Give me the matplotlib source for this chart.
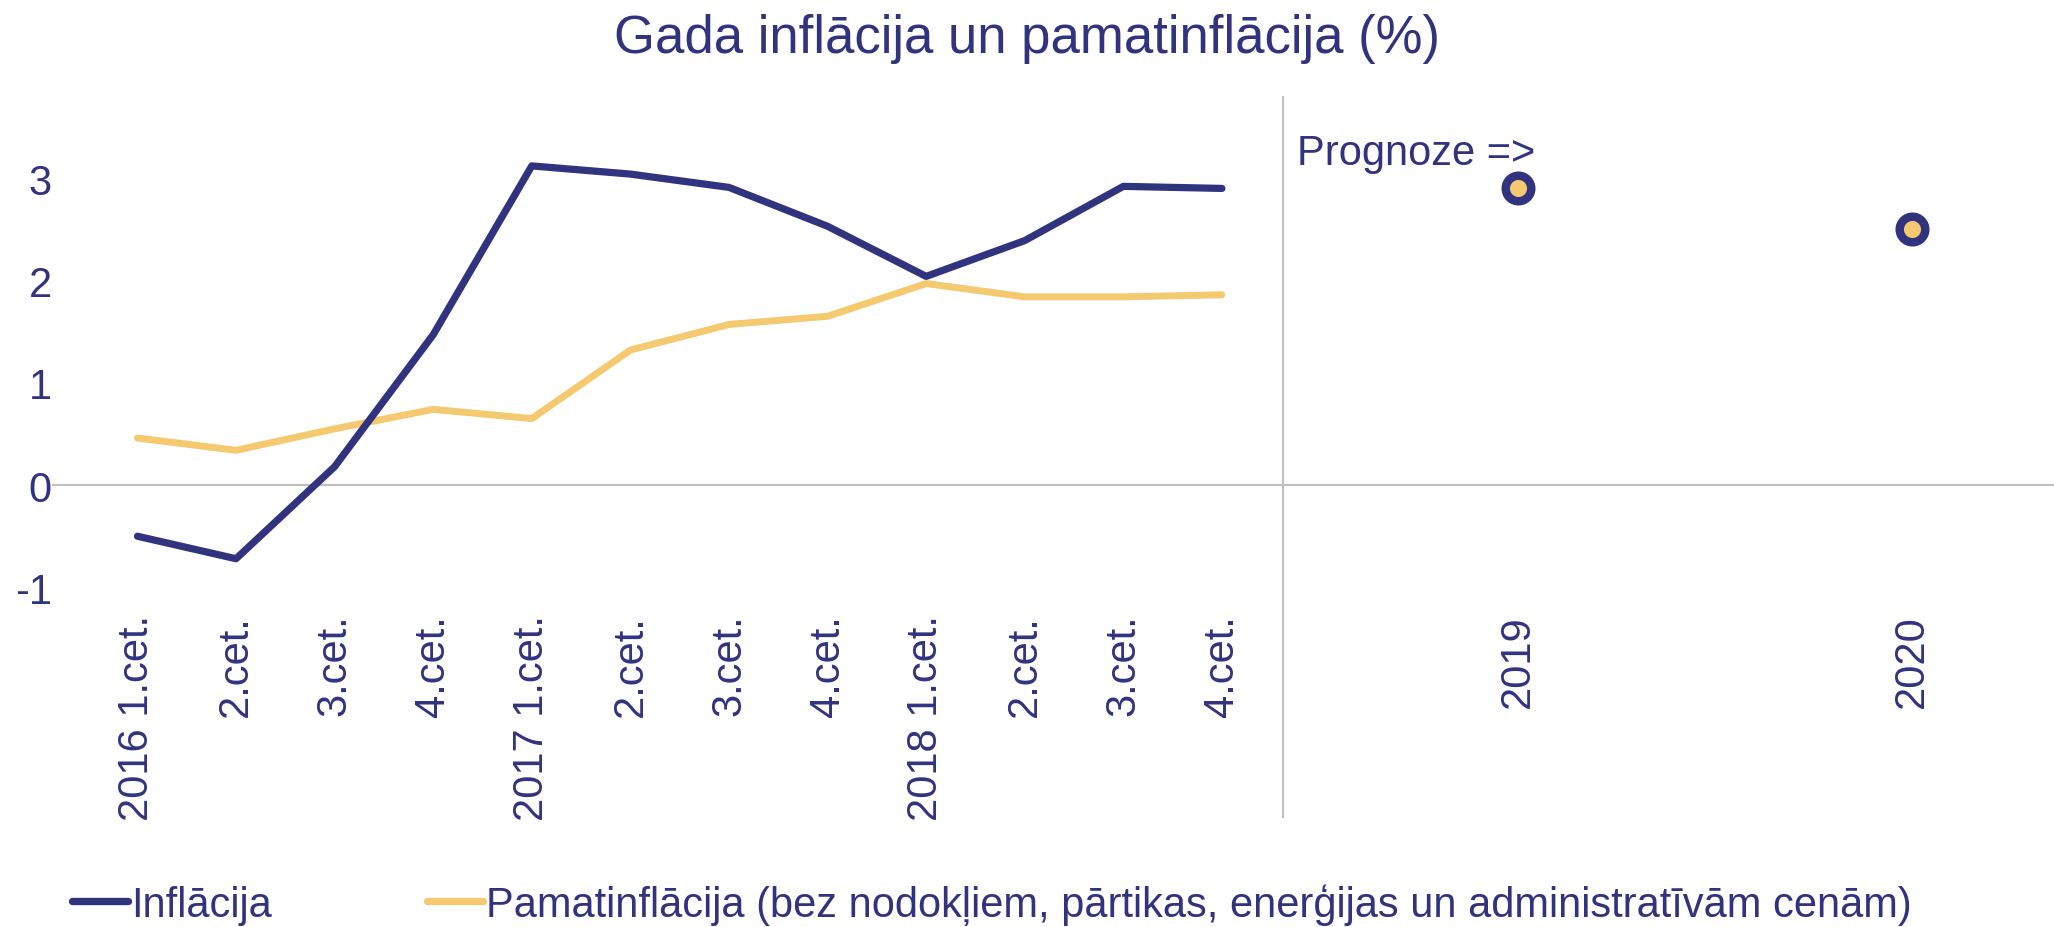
import matplotlib
matplotlib.use("Agg")
import matplotlib.pyplot as plt

plt.rcParams["font.family"] = ["Liberation Sans", "DejaVu Sans"]

NAVY = "#31337f"
GOLD = "#f5c96f"
GREY = "#bfbfbf"

# quarterly data 2016 Q1 .. 2018 Q4
quarter_labels = ["2016 1.cet.", "2.cet.", "3.cet.", "4.cet.",
                  "2017 1.cet.", "2.cet.", "3.cet.", "4.cet.",
                  "2018 1.cet.", "2.cet.", "3.cet.", "4.cet."]
inflation = [-0.50, -0.72, 0.18, 1.47, 3.12, 3.04, 2.91, 2.53, 2.04, 2.39, 2.92, 2.90]
core_inflation = [0.46, 0.34, 0.55, 0.74, 0.65, 1.32, 1.57, 1.65, 1.97, 1.84, 1.84, 1.86]

# forecast
forecast_labels = ["2019", "2020"]
forecast_values = [2.9, 2.5]
forecast_pos = [14, 18]

fig = plt.figure(figsize=(20.54, 9.28), dpi=100)
ax = fig.add_axes([0.0253, 0.348, 0.9747, 0.546])

qx = list(range(len(quarter_labels)))
ax.plot(qx, inflation, color=NAVY, lw=5.2, solid_capstyle="round",
        solid_joinstyle="round", label="Inflācija", zorder=3)
ax.plot(qx, core_inflation, color=GOLD, lw=5.0, solid_capstyle="round",
        solid_joinstyle="round",
        label="Pamatinflācija (bez nodokļiem, pārtikas, enerģijas un administratīvām cenām)",
        zorder=2)
ax.plot(forecast_pos, forecast_values, ls="none", marker="o", ms=18.4,
        mfc=GOLD, mec=NAVY, mew=6.1, zorder=4)

ax.axhline(0, color=GREY, lw=1.5, zorder=1)
# separator between history and forecast, runs down into label area
ax.axvline(11.62, ymin=-0.42, ymax=1.0, color=GREY, lw=1.5, clip_on=False, zorder=1)

ax.text(11.76, 3.14, "Prognoze =>", fontsize=30, color=NAVY, va="baseline", ha="left")

ax.set_xlim(-0.867, 19.44)
ax.set_ylim(-1.163, 3.79)
ax.set_yticks([-1, 0, 1, 2, 3])
ax.set_yticklabels(["-1", "0", "1", "2", "3"])
ax.set_xticks(qx + forecast_pos)
ax.set_xticklabels(quarter_labels + forecast_labels, rotation=90, va="top", ha="center")
ax.tick_params(axis="x", length=0, pad=7, labelsize=30, labelcolor=NAVY)
ax.tick_params(axis="y", length=0, pad=0, labelsize=30, labelcolor=NAVY)
for s in ax.spines.values():
    s.set_visible(False)

fig.text(0.5, 1 - 53 / 928, "Gada inflācija un pamatinflācija (%)", fontsize=38,
         color=NAVY, ha="center", va="baseline")

leg = fig.legend(loc="center left", bbox_to_anchor=(72 / 2054, 1 - 905 / 928),
                 ncol=2, frameon=False, fontsize=30, handlelength=1.35,
                 handletextpad=0.08, columnspacing=3.7, borderpad=0,
                 borderaxespad=0)
for t in leg.get_texts():
    t.set_color(NAVY)
for h in leg.get_lines():
    h.set_linewidth(5.3)
    h.set_solid_capstyle("round")

fig.savefig("out.png", dpi=100)
